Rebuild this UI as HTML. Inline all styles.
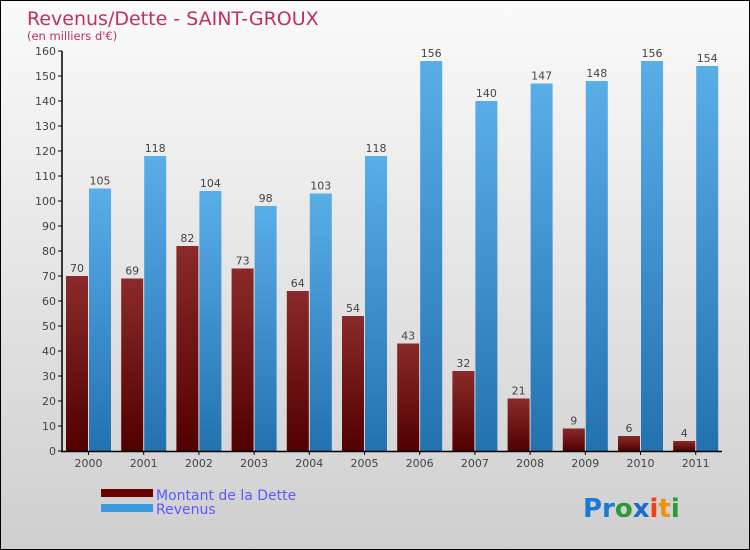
<!DOCTYPE html>
<html><head><meta charset="utf-8"><style>
body{margin:0}
#c{width:748px;height:548px;border:1px solid #000;background:linear-gradient(#fafafa,#cfcfcf);position:relative;font-family:"DejaVu Sans","Liberation Sans",sans-serif;overflow:hidden}
</style></head><body>
<div id="c">
<svg width="748" height="548" id="s">
<defs>
<linearGradient id="gr" x1="0" y1="0" x2="0" y2="1"><stop offset="0" stop-color="#8a2a2a"/><stop offset="1" stop-color="#520000"/></linearGradient>
<linearGradient id="gb" x1="0" y1="0" x2="0" y2="1"><stop offset="0" stop-color="#5aaee8"/><stop offset="1" stop-color="#2272b0"/></linearGradient>
</defs>
<text x="26" y="24" font-size="19" fill="#c0305a">Revenus/Dette - SAINT-GROUX</text>
<text x="26" y="39" font-size="11.5" fill="#c0305a">(en milliers d'€)</text>
<g id="g"></g>
<rect x="100" y="488" width="52" height="8" fill="#6a0000"/>
<rect x="100" y="503" width="52" height="8" fill="#3a9ae0"/>
<text x="155" y="499" font-size="14" fill="#5a5aff">Montant de la Dette</text>
<text x="155" y="513" font-size="14" fill="#5a5aff">Revenus</text>
<text x="582" y="516" font-size="26" font-weight="bold"><tspan fill="#1a7ad8">Pr</tspan><tspan fill="#2a9a3a">o</tspan><tspan fill="#1a6ad0">x</tspan><tspan fill="#f04010">i</tspan><tspan fill="#f09010">t</tspan><tspan fill="#2a9a3a">i</tspan></text>
</svg></div>
<script>
const years=["2000","2001","2002","2003","2004","2005","2006","2007","2008","2009","2010","2011"];
const dette=[70,69,82,73,64,54,43,32,21,9,6,4];
const revenus=[105,118,104,98,103,118,156,140,147,148,156,154];
const yTicks=[0,10,20,30,40,50,60,70,80,90,100,110,120,130,140,150,160];
const NS="http://www.w3.org/2000/svg";
const g=document.getElementById('g');
const y=v=>450-v*2.5;
const xg=i=>65+i*55.2;
function mk(t,a,txt){const e=document.createElementNS(NS,t);for(const k in a)e.setAttribute(k,a[k]);if(txt!==undefined)e.textContent=txt;g.appendChild(e);return e;}
yTicks.forEach(v=>{
 const l=mk('line',{x1:57,x2:61,y1:y(v),y2:y(v),stroke:'#000'});
 
 
 const t=mk('text',{x:55,y:y(v)+4,'font-size':11,'text-anchor':'end',fill:'#444'},v);
 
 
});
years.forEach((yr,i)=>{
 const x=xg(i);
 const b1=mk('rect',{x:x,y:y(dette[i]),width:22,height:dette[i]*2.5,fill:'url(#gr)'});
 
 
 const b2=mk('rect',{x:x+23,y:y(revenus[i]),width:22,height:revenus[i]*2.5,fill:'url(#gb)'});
 
 
 const t1=mk('text',{x:x+11,y:y(dette[i])-4,'font-size':11,'text-anchor':'middle',fill:'#444'},dette[i]);
 
 
 const t2=mk('text',{x:x+34,y:y(revenus[i])-4,'font-size':11,'text-anchor':'middle',fill:'#444'},revenus[i]);
 
 
 const tk=mk('line',{x1:x+22.5,x2:x+22.5,y1:450,y2:454,stroke:'#000'});
 
 
 const xl=mk('text',{x:x+22.5,y:466,'font-size':11,'text-anchor':'middle',fill:'#444'},yr);
 
 
});
const ya=mk('line',{x1:61,x2:61,y1:50,y2:451,stroke:'#000','stroke-width':1.5});


const xa=mk('line',{x1:60,x2:721,y1:450.5,y2:450.5,stroke:'#000','stroke-width':1.5});


</script>
</body></html>
